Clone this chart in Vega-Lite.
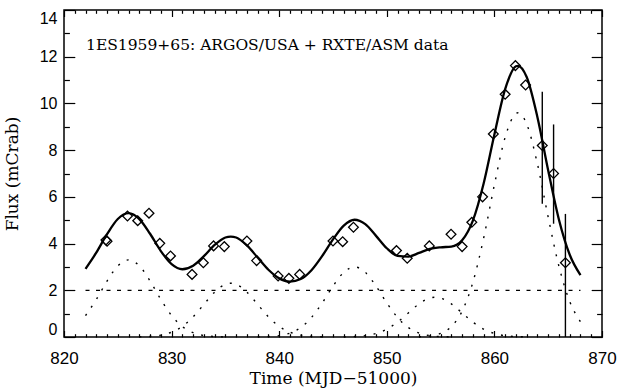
{
  "$schema": "https://vega.github.io/schema/vega-lite/v6.json",
  "width": 538,
  "height": 327,
  "autosize": {"type": "none"},
  "padding": {"left": 64, "top": 10, "right": 15, "bottom": 52},
  "background": "white",
  "config": {
    "view": {"stroke": "black", "strokeWidth": 1.5},
    "axis": {
      "grid": false,
      "domain": false,
      "tickColor": "black",
      "tickWidth": 1.2,
      "zindex": 1,
      "labelColor": "black",
      "titleColor": "black",
      "labelFont": "Liberation Sans",
      "titleFont": "DejaVu Serif",
      "titleFontWeight": "normal"
    }
  },
  "resolve": {"axis": {"x": "independent", "y": "independent"}},
  "datasets": {
    "baseline": [{"start": 822, "end": 868, "level": 2}],
    "fit": [
      {"t": 822, "flux": 2.92}, {"t": 823, "flux": 3.61}, {"t": 824, "flux": 4.40},
      {"t": 825, "flux": 5.05}, {"t": 826, "flux": 5.30}, {"t": 827, "flux": 5.05},
      {"t": 828, "flux": 4.42}, {"t": 829, "flux": 3.68}, {"t": 830, "flux": 3.12},
      {"t": 831, "flux": 2.90}, {"t": 832, "flux": 3.05}, {"t": 833, "flux": 3.46},
      {"t": 834, "flux": 3.94}, {"t": 835, "flux": 4.26}, {"t": 835.5, "flux": 4.30},
      {"t": 836, "flux": 4.26}, {"t": 837, "flux": 3.92}, {"t": 838, "flux": 3.40},
      {"t": 839, "flux": 2.88}, {"t": 840, "flux": 2.51}, {"t": 841, "flux": 2.37},
      {"t": 842, "flux": 2.48}, {"t": 843, "flux": 2.86}, {"t": 844, "flux": 3.47},
      {"t": 845, "flux": 4.18}, {"t": 846, "flux": 4.77}, {"t": 847, "flux": 5.02},
      {"t": 848, "flux": 4.83}, {"t": 849, "flux": 4.33}, {"t": 850, "flux": 3.80},
      {"t": 851, "flux": 3.47}, {"t": 852, "flux": 3.44}, {"t": 853, "flux": 3.60},
      {"t": 854, "flux": 3.77}, {"t": 855, "flux": 3.84}, {"t": 856, "flux": 3.87},
      {"t": 857, "flux": 4.14}, {"t": 858, "flux": 4.98}, {"t": 859, "flux": 6.57},
      {"t": 860, "flux": 8.67}, {"t": 861, "flux": 10.61}, {"t": 862, "flux": 11.59},
      {"t": 862.2, "flux": 11.61}, {"t": 863, "flux": 11.13}, {"t": 864, "flux": 9.41},
      {"t": 865, "flux": 7.13}, {"t": 866, "flux": 5.02}, {"t": 867, "flux": 3.52},
      {"t": 868, "flux": 2.65}
    ],
    "components": [
      {"peak": "A", "t": 822, "flux": 0.917}, {"peak": "A", "t": 823, "flux": 1.606},
      {"peak": "A", "t": 824, "flux": 2.396}, {"peak": "A", "t": 825, "flux": 3.046},
      {"peak": "A", "t": 826, "flux": 3.3}, {"peak": "A", "t": 827, "flux": 3.046},
      {"peak": "A", "t": 828, "flux": 2.396}, {"peak": "A", "t": 829, "flux": 1.606},
      {"peak": "A", "t": 830, "flux": 0.917}, {"peak": "A", "t": 831, "flux": 0.446},
      {"peak": "A", "t": 832, "flux": 0.185}, {"peak": "A", "t": 833, "flux": 0.065},
      {"peak": "A", "t": 834, "flux": 0.02}, {"peak": "A", "t": 835, "flux": 0.005},

      {"peak": "B", "t": 827, "flux": 0.007}, {"peak": "B", "t": 828, "flux": 0.026},
      {"peak": "B", "t": 829, "flux": 0.078}, {"peak": "B", "t": 830, "flux": 0.204},
      {"peak": "B", "t": 831, "flux": 0.455}, {"peak": "B", "t": 832, "flux": 0.863},
      {"peak": "B", "t": 833, "flux": 1.395}, {"peak": "B", "t": 834, "flux": 1.921},
      {"peak": "B", "t": 835, "flux": 2.254}, {"peak": "B", "t": 835.5, "flux": 2.3},
      {"peak": "B", "t": 836, "flux": 2.254}, {"peak": "B", "t": 837, "flux": 1.921},
      {"peak": "B", "t": 838, "flux": 1.395}, {"peak": "B", "t": 839, "flux": 0.863},
      {"peak": "B", "t": 840, "flux": 0.455}, {"peak": "B", "t": 841, "flux": 0.204},
      {"peak": "B", "t": 842, "flux": 0.078}, {"peak": "B", "t": 843, "flux": 0.026},
      {"peak": "B", "t": 844, "flux": 0.007},

      {"peak": "C", "t": 838, "flux": 0.005}, {"peak": "C", "t": 839, "flux": 0.018},
      {"peak": "C", "t": 840, "flux": 0.059}, {"peak": "C", "t": 841, "flux": 0.168},
      {"peak": "C", "t": 842, "flux": 0.406}, {"peak": "C", "t": 843, "flux": 0.834},
      {"peak": "C", "t": 844, "flux": 1.46}, {"peak": "C", "t": 845, "flux": 2.178},
      {"peak": "C", "t": 846, "flux": 2.769}, {"peak": "C", "t": 847, "flux": 3.0},
      {"peak": "C", "t": 848, "flux": 2.769}, {"peak": "C", "t": 849, "flux": 2.178},
      {"peak": "C", "t": 850, "flux": 1.46}, {"peak": "C", "t": 851, "flux": 0.834},
      {"peak": "C", "t": 852, "flux": 0.406}, {"peak": "C", "t": 853, "flux": 0.168},
      {"peak": "C", "t": 854, "flux": 0.059}, {"peak": "C", "t": 855, "flux": 0.018},
      {"peak": "C", "t": 856, "flux": 0.005},

      {"peak": "D", "t": 846, "flux": 0.005}, {"peak": "D", "t": 847, "flux": 0.019},
      {"peak": "D", "t": 848, "flux": 0.058}, {"peak": "D", "t": 849, "flux": 0.151},
      {"peak": "D", "t": 850, "flux": 0.336}, {"peak": "D", "t": 851, "flux": 0.638},
      {"peak": "D", "t": 852, "flux": 1.031}, {"peak": "D", "t": 853, "flux": 1.42},
      {"peak": "D", "t": 854, "flux": 1.666}, {"peak": "D", "t": 854.5, "flux": 1.7},
      {"peak": "D", "t": 855, "flux": 1.666}, {"peak": "D", "t": 856, "flux": 1.42},
      {"peak": "D", "t": 857, "flux": 1.031}, {"peak": "D", "t": 858, "flux": 0.638},
      {"peak": "D", "t": 859, "flux": 0.336}, {"peak": "D", "t": 860, "flux": 0.151},
      {"peak": "D", "t": 861, "flux": 0.058}, {"peak": "D", "t": 862, "flux": 0.019},
      {"peak": "D", "t": 863, "flux": 0.005},

      {"peak": "E", "t": 853, "flux": 0.011}, {"peak": "E", "t": 854, "flux": 0.044},
      {"peak": "E", "t": 855, "flux": 0.152}, {"peak": "E", "t": 856, "flux": 0.444},
      {"peak": "E", "t": 857, "flux": 1.105}, {"peak": "E", "t": 858, "flux": 2.341},
      {"peak": "E", "t": 859, "flux": 4.232}, {"peak": "E", "t": 860, "flux": 6.518},
      {"peak": "E", "t": 861, "flux": 8.555}, {"peak": "E", "t": 862, "flux": 9.569},
      {"peak": "E", "t": 862.2, "flux": 9.6}, {"peak": "E", "t": 863, "flux": 9.121},
      {"peak": "E", "t": 864, "flux": 7.408}, {"peak": "E", "t": 865, "flux": 5.127},
      {"peak": "E", "t": 866, "flux": 3.024}, {"peak": "E", "t": 867, "flux": 1.52},
      {"peak": "E", "t": 868, "flux": 0.651}
    ],
    "obs": [
      {"t": 823.9, "flux": 4.15}, {"t": 824.0, "flux": 4.1},
      {"t": 825.9, "flux": 5.18}, {"t": 826.85, "flux": 4.98},
      {"t": 827.9, "flux": 5.3}, {"t": 828.9, "flux": 4.01},
      {"t": 829.9, "flux": 3.47}, {"t": 831.9, "flux": 2.68},
      {"t": 832.95, "flux": 3.18}, {"t": 833.9, "flux": 3.9},
      {"t": 834.9, "flux": 3.87}, {"t": 837.0, "flux": 4.11},
      {"t": 837.9, "flux": 3.27}, {"t": 839.9, "flux": 2.61},
      {"t": 840.9, "flux": 2.51}, {"t": 841.9, "flux": 2.68},
      {"t": 845.0, "flux": 4.11}, {"t": 845.9, "flux": 4.08},
      {"t": 846.9, "flux": 4.7}, {"t": 850.9, "flux": 3.7},
      {"t": 851.9, "flux": 3.37}, {"t": 853.95, "flux": 3.9},
      {"t": 855.97, "flux": 4.4}, {"t": 857.0, "flux": 3.87},
      {"t": 857.9, "flux": 4.91}, {"t": 858.9, "flux": 6.0},
      {"t": 859.9, "flux": 8.69}, {"t": 861.0, "flux": 10.39},
      {"t": 861.95, "flux": 11.62}, {"t": 862.9, "flux": 10.79},
      {"t": 864.45, "flux": 8.2, "lo": 5.7, "hi": 10.5},
      {"t": 865.5, "flux": 7.0, "lo": 4.85, "hi": 9.1},
      {"t": 866.6, "flux": 3.18, "lo": 0, "hi": 5.27}
    ]
  },
  "layer": [
    {
      "data": {"name": "baseline"},
      "mark": {"type": "rule", "color": "black", "strokeWidth": 1.2, "strokeDash": [4, 6.5]},
      "encoding": {
        "x": {
          "field": "start", "type": "quantitative",
          "scale": {"domain": [820, 870], "nice": false, "zero": false},
          "axis": {
            "orient": "bottom",
            "values": [820, 830, 840, 850, 860, 870],
            "tickSize": -6.5,
            "format": "d",
            "labelOverlap": false,
            "labelFlush": false,
            "labelFontSize": 17,
            "labelPadding": 20,
            "title": "Time (MJD−51000)",
            "titleFontSize": 17,
            "titlePadding": 4
          }
        },
        "x2": {"field": "end"},
        "y": {
          "field": "level", "type": "quantitative",
          "scale": {"domain": [0, 14], "nice": false, "zero": false},
          "axis": {
            "orient": "left",
            "values": [0, 2, 4, 6, 8, 10, 12, 14],
            "tickSize": -10.8,
            "format": "d",
            "labelOverlap": false,
            "labelFlush": true,
            "labelFontSize": 16,
            "labelPadding": 17.8,
            "title": "Flux (mCrab)",
            "titleFontSize": 17,
            "titlePadding": 18
          }
        }
      }
    },
    {
      "data": {"name": "fit"},
      "mark": {"type": "line", "interpolate": "monotone", "color": "black", "strokeWidth": 2.3},
      "encoding": {
        "x": {
          "field": "t", "type": "quantitative",
          "scale": {"domain": [820, 870], "nice": false, "zero": false},
          "axis": {"orient": "top", "values": [820, 830, 840, 850, 860, 870], "tickSize": -6.5, "labels": false, "title": null}
        },
        "y": {
          "field": "flux", "type": "quantitative",
          "scale": {"domain": [0, 14], "nice": false, "zero": false},
          "axis": {"orient": "right", "values": [0, 2, 4, 6, 8, 10, 12, 14], "tickSize": -10.8, "labels": false, "title": null}
        }
      }
    },
    {
      "data": {"name": "components"},
      "mark": {"type": "line", "interpolate": "monotone", "color": "black", "strokeWidth": 1.4, "strokeDash": [2, 8]},
      "encoding": {
        "x": {
          "field": "t", "type": "quantitative",
          "axis": {"orient": "bottom", "values": [821,822,823,824,825,826,827,828,829,831,832,833,834,835,836,837,838,839,841,842,843,844,845,846,847,848,849,851,852,853,854,855,856,857,858,859,861,862,863,864,865,866,867,868,869], "tickSize": -3.3, "labels": false, "title": null}
        },
        "y": {
          "field": "flux", "type": "quantitative",
          "axis": {"orient": "left", "values": [1, 3, 5, 7, 9, 11, 13], "tickSize": -5.4, "labels": false, "title": null}
        },
        "detail": {"field": "peak"}
      }
    },
    {
      "data": {"name": "obs"},
      "transform": [{"filter": "isValid(datum.lo)"}],
      "mark": {"type": "rule", "color": "black", "strokeWidth": 1.4},
      "encoding": {
        "x": {"field": "t", "type": "quantitative", "axis": null},
        "y": {"field": "lo", "type": "quantitative", "axis": null},
        "y2": {"field": "hi"}
      }
    },
    {
      "data": {"name": "obs"},
      "mark": {"type": "point", "shape": "diamond", "filled": false, "size": 95, "stroke": "black", "strokeWidth": 1.3, "opacity": 1},
      "encoding": {
        "x": {
          "field": "t", "type": "quantitative",
          "axis": {"orient": "top", "values": [821,822,823,824,825,826,827,828,829,831,832,833,834,835,836,837,838,839,841,842,843,844,845,846,847,848,849,851,852,853,854,855,856,857,858,859,861,862,863,864,865,866,867,868,869], "tickSize": -3.3, "labels": false, "title": null}
        },
        "y": {
          "field": "flux", "type": "quantitative",
          "axis": {"orient": "right", "values": [1, 3, 5, 7, 9, 11, 13], "tickSize": -5.4, "labels": false, "title": null}
        }
      }
    },
    {
      "data": {"values": [{}]},
      "mark": {"type": "text", "text": "1ES1959+65: ARGOS/USA + RXTE/ASM data", "align": "left", "baseline": "middle", "font": "DejaVu Serif", "fontSize": 15.5, "color": "black"},
      "encoding": {
        "x": {"datum": 822.05, "type": "quantitative", "axis": null},
        "y": {"datum": 12.5, "type": "quantitative", "axis": null}
      }
    }
  ]
}
